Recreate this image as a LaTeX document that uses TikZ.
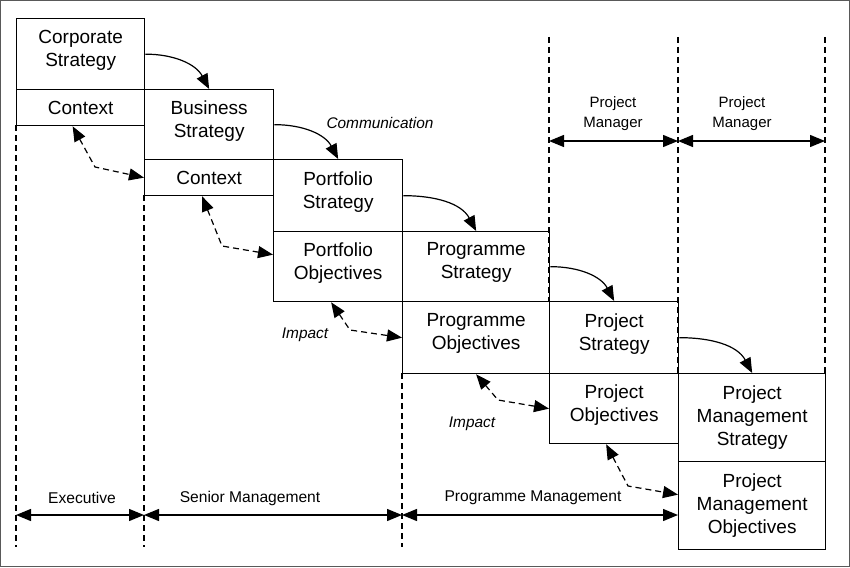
\documentclass[tikz,border=0pt]{standalone}
\usepackage{fontspec}
\setmainfont{Liberation Sans}
\usetikzlibrary{arrows.meta,calc}
\begin{document}
\begin{tikzpicture}[x=1pt,y=-1pt,
  box/.style={draw,line width=1.3pt,anchor=north west,inner sep=0pt,minimum width=#1,align=center,font=\fontsize{19}{23}\selectfont},
  two/.style={text depth=12pt},
  comm/.style={line width=1.2pt,-{Triangle[length=15pt,width=12pt]}},
  imp/.style={line width=1.2pt,dash pattern=on 6pt off 4pt,{Triangle[length=15pt,width=12pt]}-{Triangle[length=15pt,width=12pt]}},
  span/.style={line width=1.3pt,{Triangle[length=15pt,width=12pt]}-{Triangle[length=15pt,width=12pt]}},
  guide/.style={line width=1.1pt,dash pattern=on 6pt off 4pt},
  lab/.style={font=\fontsize{15.6}{17}\selectfont,align=center},
  ilab/.style={font=\fontsize{15.4}{17}\selectfont\itshape}]
\useasboundingbox (0,0) rectangle (850,567);
\draw[gray!70!black,line width=1pt] (0.5,0.5) rectangle (849.5,566.5);
% guides
\coordinate (g1t) at (16,125); \coordinate (g1b) at (16,547);
\coordinate (g2t) at (144,195); \coordinate (g2b) at (144,547);
\coordinate (g3t) at (402,373); \coordinate (g3b) at (402,547);
\coordinate (g4t) at (549,37); \coordinate (g4b) at (549,301);
\coordinate (g5t) at (678,37); \coordinate (g5b) at (678,373);
\coordinate (g6t) at (825,37); \coordinate (g6b) at (825,373);
\foreach \i in {1,...,6} {\draw[guide] (g\i t) -- (g\i b);}
% boxes
\node[box=128pt,two,minimum height=71pt] (cs) at (16,18) {Corporate\\Strategy};
\node[box=128pt,minimum height=36pt] (cc) at (16,89) {Context};
\node[box=129pt,two,minimum height=70pt] (bs) at (144,89) {Business\\Strategy};
\node[box=129pt,minimum height=36pt] (bc) at (144,159) {Context};
\node[box=129pt,two,minimum height=72pt] (ps) at (273,159) {Portfolio\\Strategy};
\node[box=129pt,two,minimum height=70pt] (po) at (273,231) {Portfolio\\Objectives};
\node[box=147pt,two,minimum height=70pt] (gs) at (402,231) {Programme\\Strategy};
\node[box=147pt,two,minimum height=72pt] (go) at (402,301) {Programme\\Objectives};
\node[box=129pt,two,minimum height=72pt] (js) at (549,301) {Project\\Strategy};
\node[box=129pt,two,minimum height=70pt] (jo) at (549,373) {Project\\Objectives};
\node[box=147pt,minimum height=88pt] (ms) at (678,373) {Project\\Management\\Strategy};
\node[box=147pt,minimum height=88pt] (mo) at (678,461) {Project\\Management\\Objectives};
% communication arrows
\draw[comm] (cs.east) to[out=0,in=118] (bs.north);
\draw[comm] (bs.east) to[out=0,in=118] (ps.north);
\draw[comm] (ps.east) to[out=0,in=118] (gs.north);
\draw[comm] (gs.east) to[out=0,in=118] (js.north);
\draw[comm] (js.east) to[out=0,in=118] (ms.north);
\node[ilab] (lc) at (380,123) {Communication};
% impact arrows
\draw[imp] ([xshift=-8pt]cc.south) -- (95,167) -- (bc.west);
\draw[imp] ([xshift=-7pt]bc.south) -- (222,246) -- ([yshift=12pt]po.west);
\draw[imp] ([xshift=-7pt]po.south) -- (350,330) -- (go.west);
\draw[imp] ([xshift=0pt]go.south) -- (498,400) -- (jo.west);
\draw[imp] ([xshift=-8pt]jo.south) -- (628,486) -- ([yshift=11pt]mo.west);
\node[ilab] (li1) at (305,335) {Impact};
\node[ilab] (li2) at (472,424) {Impact};
% spans bottom
\coordinate (b1) at (16,515); \coordinate (b2) at (144,515);
\coordinate (b3) at (402,515); \coordinate (b4) at (678,515);
\draw[span] (b1) -- (b2);
\draw[span] (b2) -- (b3);
\draw[span] (b3) -- (b4);
\node[lab] (le) at (82,498) {Executive};
\node[lab] (lsm) at (250,498) {Senior Management};
\node[lab] (lpm) at (533,498) {Programme Management};
% spans top
\coordinate (t1) at (549,141); \coordinate (t2) at (678,141); \coordinate (t3) at (825,141);
\draw[span] (t1) -- (t2);
\draw[span] (t2) -- (t3);
\node[lab,font=\fontsize{15}{20}\selectfont] (lpm1) at (613,114) {Project\\Manager};
\node[lab,font=\fontsize{15}{20}\selectfont] (lpm2) at (742,114) {Project\\Manager};
\end{tikzpicture}
\end{document}
